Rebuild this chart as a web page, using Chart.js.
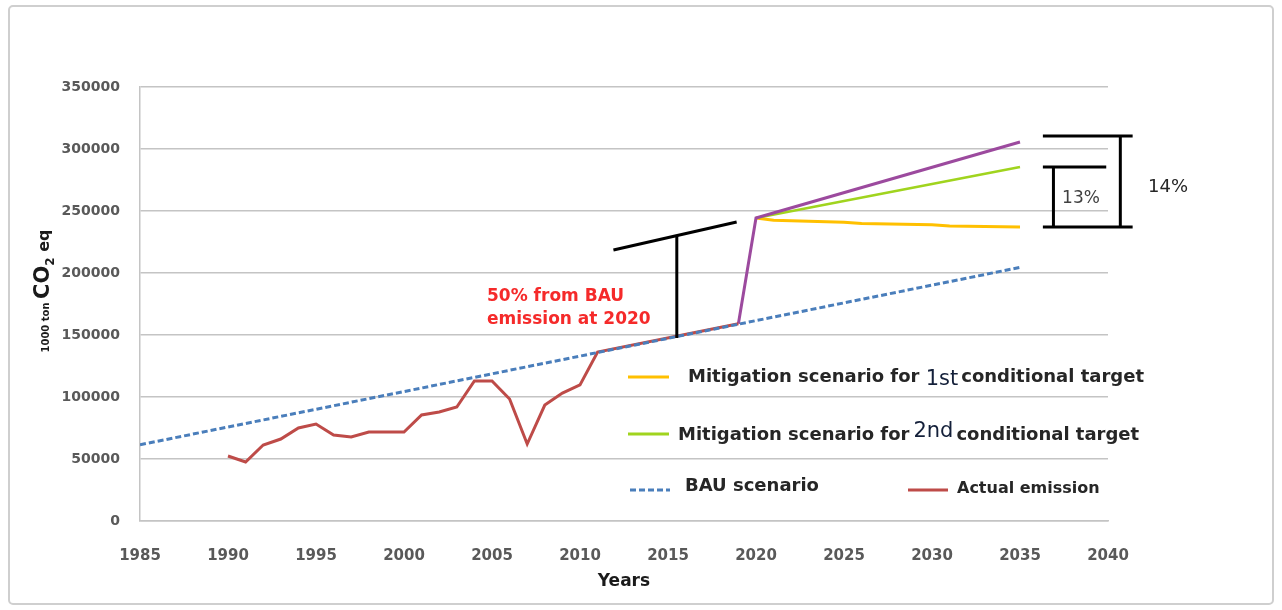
<!DOCTYPE html>
<html>
<head>
<meta charset="utf-8">
<script src="https://cdn.jsdelivr.net/npm/chart.js@4.4.1/dist/chart.umd.min.js"></script>
<style>
  html, body { margin: 0; padding: 0; background: #fff; }
  #wrap { width: 1282px; height: 610px; }
</style>
</head>
<body>
<div id="wrap"><canvas id="chart" width="1282" height="610"></canvas></div>
<script>
// values (1000 ton CO2 eq)
const bauYears = [1985, 2035];
const bauValues = [61500, 204500];
const actualYears = [1990, 1991, 1992, 1993, 1994, 1995, 1996, 1997, 1998, 1999, 2000,
  2001, 2002, 2003, 2004, 2005, 2006, 2007, 2008, 2009, 2010, 2011, 2019];
const actualValues = [52400, 47600, 61300, 66100, 75000, 78200, 69400, 67700, 71800, 71800, 71800,
  85500, 87900, 91900, 112900, 112900, 98400, 62100, 93500, 103200, 109700, 136300, 159000];
const unconditionalYears = [2019, 2020, 2027, 2035];
const unconditionalValues = [159000, 244400, 273000, 305600];
const secondYears = [2020, 2035];
const secondValues = [244400, 285500];
const firstYears = [2020, 2021, 2025, 2026, 2030, 2031, 2035];
const firstValues = [244400, 242500, 241000, 240000, 239000, 238000, 237100];
const xTicks = [1985, 1990, 1995, 2000, 2005, 2010, 2015, 2020, 2025, 2030, 2035, 2040];
const yTicks = [0, 50000, 100000, 150000, 200000, 250000, 300000, 350000];

const pts = (xs, ys) => xs.map((x, i) => ({x: x, y: ys[i]}));

// annotation marks in data units [year, value]
const gapBar = [[2011.9, 218500], [2018.9, 241100]];
const gapStem = [[2015.5, 229800], [2015.5, 147600]];
const brackets = [
  [[2036.3, 310500], [2041.4, 310500]],
  [[2036.3, 285500], [2039.9, 285500]],
  [[2036.3, 237100], [2041.4, 237100]],
  [[2036.9, 285500], [2036.9, 237100]],
  [[2040.7, 310500], [2040.7, 237100]]
];

const BOLD = 'bold 18px "DejaVu Sans"';
const BIG = '21px "DejaVu Sans"';
const TXT = '#262626';

function drawParts(ctx, x, y, parts) {
  parts.forEach(p => {
    ctx.font = p.font;
    ctx.fillStyle = p.color || TXT;
    ctx.fillText(p.text, x, y + (p.dy || 0));
    x += ctx.measureText(p.text).width + (p.gap || 0);
  });
}

function sample(ctx, x1, x2, y, color, dash) {
  ctx.save();
  ctx.strokeStyle = color;
  ctx.lineWidth = 3;
  ctx.setLineDash(dash || []);
  ctx.beginPath();
  ctx.moveTo(x1, y);
  ctx.lineTo(x2, y);
  ctx.stroke();
  ctx.restore();
}

const overlay = {
  id: 'overlay',
  beforeDraw(chart) {
    const ctx = chart.ctx;
    ctx.save();
    ctx.fillStyle = '#fff';
    ctx.fillRect(0, 0, chart.width, chart.height);
    ctx.strokeStyle = '#cfcfcf';
    ctx.lineWidth = 2;
    ctx.beginPath();
    ctx.roundRect(9, 6, 1264, 598, 4);
    ctx.stroke();
    ctx.restore();
  },
  afterDraw(chart) {
    const ctx = chart.ctx;
    const sx = chart.scales.x, sy = chart.scales.y;
    const P = p => [sx.getPixelForValue(p[0]), sy.getPixelForValue(p[1])];
    ctx.save();

    // black gap markers
    ctx.strokeStyle = '#000';
    ctx.lineWidth = 3;
    [gapBar, gapStem].concat(brackets).forEach(seg => {
      const a = P(seg[0]), b = P(seg[1]);
      ctx.beginPath();
      ctx.moveTo(a[0], a[1]);
      ctx.lineTo(b[0], b[1]);
      ctx.stroke();
    });

    ctx.textBaseline = 'middle';
    ctx.textAlign = 'center';
    ctx.fillStyle = '#404040';
    ctx.font = '17px "DejaVu Sans"';
    ctx.fillText('13%', 1081, 199);
    ctx.font = '18px "DejaVu Sans"';
    ctx.fillStyle = '#262626';
    ctx.fillText('14%', 1168, 187);

    ctx.textAlign = 'left';
    ctx.fillStyle = '#f52a2a';
    ctx.font = 'bold 17px "DejaVu Sans"';
    ctx.fillText('50% from BAU', 487, 297);
    ctx.fillText('emission at 2020', 487, 320);

    // legend
    ctx.textBaseline = 'alphabetic';
    sample(ctx, 628, 669, 377, '#ffc000');
    drawParts(ctx, 688, 382, [
      {text: 'Mitigation scenario for ', font: BOLD},
      {text: '1st', font: BIG, color: '#14203a', dy: 3, gap: 3},
      {text: 'conditional target', font: BOLD}
    ]);
    sample(ctx, 628, 669, 434, '#a0d41e');
    drawParts(ctx, 678, 440, [
      {text: 'Mitigation scenario for', font: BOLD, gap: 4},
      {text: '2nd', font: BIG, color: '#14203a', dy: -3, gap: 3},
      {text: 'conditional target', font: BOLD}
    ]);
    sample(ctx, 630, 670, 490, '#4a7ebb', [6, 3]);
    drawParts(ctx, 685, 491, [{text: 'BAU scenario', font: BOLD}]);
    sample(ctx, 908, 948, 490, '#be4b48');
    drawParts(ctx, 957, 493, [{text: 'Actual emission', font: 'bold 16px "DejaVu Sans"'}]);

    // y axis title with subscript
    ctx.translate(49, 291);
    ctx.rotate(-Math.PI / 2);
    const parts = [
      {text: '1000 ton ', font: 'bold 10px "DejaVu Sans"'},
      {text: 'CO', font: 'bold 21px "DejaVu Sans"'},
      {text: '2', font: 'bold 12px "DejaVu Sans"', dy: 5},
      {text: ' eq', font: 'bold 16px "DejaVu Sans"'}
    ];
    let total = 0;
    parts.forEach(p => { ctx.font = p.font; total += ctx.measureText(p.text).width; });
    drawParts(ctx, -total / 2, 0, parts.map(p => Object.assign({color: '#1a1a1a'}, p)));
    ctx.restore();
  }
};

new Chart(document.getElementById('chart'), {
  type: 'line',
  data: {
    datasets: [
      {label: 'BAU scenario', data: pts(bauYears, bauValues), borderColor: '#4a7ebb',
        borderWidth: 3, borderDash: [6, 3]},
      {label: 'Actual emission', data: pts(actualYears, actualValues), borderColor: '#be4b48',
        borderWidth: 3},
      {label: 'Unconditional', data: pts(unconditionalYears, unconditionalValues), borderColor: '#9c4a9e',
        borderWidth: 3},
      {label: 'Mitigation scenario for 2nd conditional target', data: pts(secondYears, secondValues),
        borderColor: '#a0d41e', borderWidth: 2.5},
      {label: 'Mitigation scenario for 1st conditional target', data: pts(firstYears, firstValues),
        borderColor: '#ffc000', borderWidth: 3}
    ]
  },
  options: {
    responsive: false,
    animation: false,
    layout: {padding: {left: 0, top: 87, right: 174, bottom: 0}},
    elements: {point: {radius: 0}, line: {tension: 0}},
    plugins: {legend: {display: false}, tooltip: {enabled: false}},
    scales: {
      x: {
        type: 'linear',
        min: 1985, max: 2040,
        afterBuildTicks: s => { s.ticks = xTicks.map(v => ({value: v})); },
        afterFit: s => { s.height = 89; },
        grid: {display: false},
        border: {display: true, color: '#c4c4c4', width: 1.5},
        ticks: {color: '#595959', font: {family: 'DejaVu Sans', size: 15, weight: 'bold'},
          padding: 18, maxRotation: 0, callback: v => String(v)},
        title: {display: true, text: 'Years', color: '#1a1a1a',
          font: {family: 'DejaVu Sans', size: 17, weight: 'bold'}, padding: {top: 0, bottom: 18}}
      },
      y: {
        min: 0, max: 350000,
        afterBuildTicks: s => { s.ticks = yTicks.map(v => ({value: v})); },
        afterFit: s => { s.width = 140; },
        grid: {color: '#c4c4c4', lineWidth: 1.5, drawTicks: false},
        border: {display: true, color: '#c4c4c4', width: 1.5},
        ticks: {color: '#595959', font: {family: 'DejaVu Sans', size: 14, weight: 'bold'},
          padding: 20, callback: v => String(v)}
      }
    }
  },
  plugins: [overlay]
});
</script>
</body>
</html>
